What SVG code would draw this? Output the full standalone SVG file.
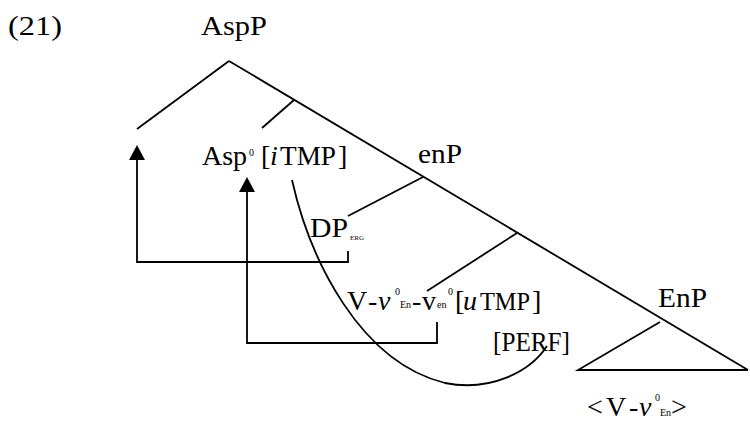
<svg xmlns="http://www.w3.org/2000/svg" width="750" height="422" viewBox="0 0 750 422">
<style>
text { font-family: "Liberation Serif", "Times New Roman", serif; fill: #000; }
.m { font-size: 28px; }
.s { font-size: 10px; }
.t { font-size: 7px; }
.i { font-style: italic; }
.ln { stroke: #000; stroke-width: 1.8; fill: none; }
.ah { fill: #000; stroke: none; }
</style>
<rect width="750" height="422" fill="#fff"/>
<g id="connectors">
  <path class="ln" d="M229,61 L137,129"/>
  <path class="ln" d="M229,61 L748,370"/>
  <path class="ln" d="M294,100 L262,128"/>
  <path class="ln" d="M423,177 L348,216"/>
  <path class="ln" d="M517,233 L427,291"/>
  <path class="ln" d="M660,322 L578,370 L748,370"/>
  <path class="ln" d="M348,251 L348,262 L137,262 L137,159"/>
  <polygon class="ah" points="137,145 129,160 145,160"/>
  <path class="ln" d="M437,322 L437,343 L247,343 L247,191"/>
  <polygon class="ah" points="247,177 239,192 255,192"/>
  <path class="ln" d="M292,180 C310,260 360,362 445,383 C490,392 530,372 547,346"/>
</g>
<g id="label-21">
  <text class="m" x="8" y="35" font-size="26" textLength="54" lengthAdjust="spacingAndGlyphs">(21)</text>
</g>
<g id="node-AspP">
  <text class="m" x="201" y="35" textLength="66" lengthAdjust="spacingAndGlyphs">AspP</text>
</g>
<g id="node-Asp0">
  <text class="m" x="202" y="165">Asp</text>
  <text class="s" x="249" y="156" font-size="9">0</text>
  <text class="m" x="261" y="165">[</text>
  <text class="m i" x="270" y="165">i</text>
  <text class="m" x="280" y="165" textLength="56" lengthAdjust="spacingAndGlyphs">TMP</text>
  <text class="m" x="338" y="165">]</text>
</g>
<g id="node-enP">
  <text class="m" x="418" y="163" textLength="44" lengthAdjust="spacingAndGlyphs">enP</text>
</g>
<g id="node-DP">
  <text class="m" x="310" y="237" textLength="38" lengthAdjust="spacingAndGlyphs">DP</text>
  <text class="t" x="350" y="240">ERG</text>
</g>
<g id="node-V">
  <text class="m" x="347" y="310">V</text>
  <text class="m" x="368" y="310">-</text>
  <text class="m i" x="378" y="310">v</text>
  <text class="s" x="395" y="295">0</text>
  <text class="s" x="400" y="308">En</text>
  <text class="m" x="412" y="310">-</text>
  <text class="m" x="422" y="310">v</text>
  <text class="s" x="437" y="308">en</text>
  <text class="s" x="448" y="295">0</text>
  <text class="m" x="455" y="310">[</text>
  <text class="m i" x="463" y="310">u</text>
  <text x="480" y="310" font-size="25" textLength="50" lengthAdjust="spacingAndGlyphs">TMP</text>
  <text class="m" x="532" y="310">]</text>
</g>
<g id="node-PERF">
  <text class="m" x="493" y="351" textLength="77" lengthAdjust="spacingAndGlyphs">[PERF]</text>
</g>
<g id="node-EnP">
  <text class="m" x="658" y="307" textLength="49" lengthAdjust="spacingAndGlyphs">EnP</text>
</g>
<g id="node-trace">
  <text class="m" x="587" y="416">&lt;</text>
  <text class="m" x="606" y="416">V</text>
  <text class="m" x="629" y="416">-</text>
  <text class="m i" x="639" y="416">v</text>
  <text class="s" x="655" y="401" font-size="9">0</text>
  <text class="s" x="660" y="416" font-size="9">En</text>
  <text class="m" x="671" y="416">&gt;</text>
</g>
</svg>
